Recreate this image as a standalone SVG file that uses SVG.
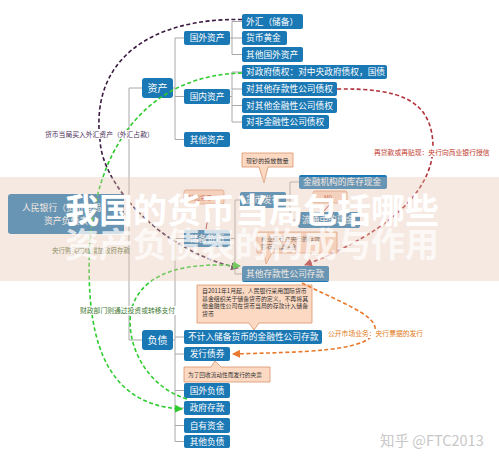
<svg xmlns="http://www.w3.org/2000/svg" width="499" height="459" viewBox="0 0 499 459">
<defs>
<style>
.b{fill:#1a78b4}
.t{fill:#fff;font-family:"Noto Sans CJK SC","Noto Sans",sans-serif;font-size:8.7px}
.m{text-anchor:middle}
.n{fill:#fcd9c2;stroke:#d9926a;stroke-width:0.8}
.nt{fill:#333;font-family:"Noto Sans CJK SC",sans-serif;font-size:5.9px}
.g{fill:none;stroke:#a8a8a8;stroke-width:1}
.d{fill:none;stroke-width:1.6;stroke-dasharray:4 2.5}
.l{font-family:"Noto Sans CJK SC",sans-serif;font-size:6.8px}
.bg{fill:#fff}
.tt{fill:#fff;font-family:"Noto Sans CJK SC",sans-serif;font-size:34px;font-weight:bold}
</style>
<marker id="ap" markerWidth="8" markerHeight="8" refX="7" refY="4" orient="auto" markerUnits="userSpaceOnUse"><path d="M0,0 L8,4 L0,8 z" fill="#3a1a40"/></marker>
<marker id="ag" markerWidth="8" markerHeight="8" refX="7" refY="4" orient="auto" markerUnits="userSpaceOnUse"><path d="M0,0 L8,4 L0,8 z" fill="#2ecc2e"/></marker>
<marker id="ar" markerWidth="8" markerHeight="8" refX="7" refY="4" orient="auto" markerUnits="userSpaceOnUse"><path d="M0,0 L8,4 L0,8 z" fill="#b0303a"/></marker>
<marker id="ao" markerWidth="8" markerHeight="8" refX="7" refY="4" orient="auto" markerUnits="userSpaceOnUse"><path d="M0,0 L8,4 L0,8 z" fill="#e8782a"/></marker>
</defs>
<rect width="499" height="459" fill="#fff"/>

<g id="connectors">
<path class="g" d="M124,214 H129 M129,88 V340 M129,88 H142 M129,340 H142
M173,88 H175 M175,38 V139.5 M175,38 H184 M175,96.5 H184 M175,139.5 H184
M230,38 H232 M232,21.5 V54.5 M232,21.5 H242 M232,38 H242 M232,54.5 H242
M230,96.5 H232 M232,72 V122 M232,72 H242 M232,89 H242 M232,105.5 H242 M232,122 H242
M173,340 H175 M175,238.5 V441.5 M175,238.5 H184 M175,337 H184 M175,354 H184 M175,390.5 H184 M175,408 H184 M175,425.5 H184 M175,441.5 H184
M230,238.5 H235 M235,200 V274 M235,200 H240 M235,274 H242
M286,200 H290 M290,182 V220 M290,182 H299 M290,220 H298"/>
</g>

<g id="root"><rect class="b" x="8" y="194" width="116" height="40" rx="3"/><text class="t m" x="66" y="211" style="font-size:8.8px">人民银行（货币当局）</text><text class="t m" x="66" y="224" style="font-size:8.8px">资产负债表</text></g>
<g id="zichan"><rect class="b" x="142" y="78" width="31" height="20" rx="3"/><text class="t m" x="157.5" y="92" style="font-size:10px">资产</text></g>
<g id="fuzhai"><rect class="b" x="142" y="330" width="31" height="20" rx="3"/><text class="t m" x="157.5" y="344" style="font-size:10px">负债</text></g>

<g id="guowai"><rect class="b" x="184" y="31" width="46" height="14" rx="2"/><text class="t m" x="207" y="41">国外资产</text></g>
<g id="guonei"><rect class="b" x="184" y="89" width="46" height="15" rx="2"/><text class="t m" x="207" y="99.5">国内资产</text></g>
<g id="qitazichan"><rect class="b" x="184" y="132" width="46" height="15" rx="2"/><text class="t m" x="207" y="142.5">其他资产</text></g>

<g id="waihui"><rect class="b" x="242" y="14" width="61" height="15" rx="2"/><text class="t" x="246" y="24.5">外汇（储备）</text></g>
<g id="huangjin"><rect class="b" x="242" y="31" width="45" height="14" rx="2"/><text class="t" x="246" y="41">货币黄金</text></g>
<g id="qitaguowai"><rect class="b" x="242" y="47" width="61" height="15" rx="2"/><text class="t" x="246" y="57.5">其他国外资产</text></g>
<g id="duizhengfu"><rect class="b" x="242" y="65" width="145" height="14" rx="2"/><text class="t" x="246" y="75">对政府债权：对中央政府债权，国债</text></g>
<g id="duicunkuan"><rect class="b" x="242" y="82" width="95" height="14" rx="2"/><text class="t" x="246" y="92">对其他存款性公司债权</text></g>
<g id="duijinrong"><rect class="b" x="242" y="98" width="95" height="15" rx="2"/><text class="t" x="246" y="108.5">对其他金融性公司债权</text></g>
<g id="duifeijinrong"><rect class="b" x="242" y="115" width="87" height="14" rx="2"/><text class="t" x="246" y="125">对非金融性公司债权</text></g>

<g id="chubei"><rect class="b" x="184" y="230" width="46" height="17" rx="2"/><text class="t m" x="207" y="241.5">储备货币</text></g>
<g id="huobifaxing"><rect class="b" x="240" y="192" width="46" height="16" rx="2"/><text class="t m" x="263" y="203">货币发行</text></g>
<g id="kucun"><rect class="b" x="299" y="175" width="88" height="14" rx="2"/><text class="t" x="303" y="185">金融机构的库存现金</text></g>
<g id="liutong"><rect class="b" x="298" y="212" width="62" height="16" rx="2"/><text class="t" x="302" y="223">流通中的现金</text></g>
<g id="qitacunkuan"><rect class="b" x="242" y="266" width="87" height="16" rx="2"/><text class="t" x="246" y="277">其他存款性公司存款</text></g>
<g id="bujiru"><rect class="b" x="184" y="330" width="138" height="14" rx="2"/><text class="t" x="188" y="340">不计入储备货币的金融性公司存款</text></g>
<g id="faxing"><rect class="b" x="184" y="347" width="46" height="14" rx="2"/><text class="t m" x="207" y="357">发行债券</text></g>
<g id="guowaifuzhai"><rect class="b" x="184" y="383" width="46" height="15" rx="2"/><text class="t m" x="207" y="393.5">国外负债</text></g>
<g id="zhengfucunkuan"><rect class="b" x="184" y="401" width="46" height="14" rx="2"/><text class="t m" x="207" y="411">政府存款</text></g>
<g id="ziyou"><rect class="b" x="184" y="418" width="46" height="15" rx="2"/><text class="t m" x="207" y="428.5">自有资金</text></g>
<g id="qitafuzhai"><rect class="b" x="184" y="435" width="46" height="13" rx="2"/><text class="t m" x="207" y="444.5">其他负债</text></g>

<g id="note-xianchao"><path class="n" d="M242,153 H293 V167 H268 L264,183 L259,167 H242 Z"/><text class="nt" x="246" y="162.5" style="font-size:6.1px">现钞的投放数量</text></g>
<g id="note-jichu"><rect class="n" x="184" y="190" width="40" height="14" rx="2"/><text class="nt" x="188" y="199.5" style="fill:#c0392b">基础货币</text><path d="M210,205 L206,229" stroke="#b0303a" stroke-width="1" fill="none"/></g>
<g id="note-m0"><rect class="n" x="313" y="191" width="34" height="12" rx="2"/><text class="nt" x="324" y="199.5" style="fill:#c0392b">M0</text><path d="M331,203 L323,212" stroke="#b0303a" stroke-width="1" fill="none"/></g>
<g id="note-zhunbei"><path class="n" d="M257,232 H337 V253 H272 L266,264 L264,253 H257 Z"/><text class="nt" x="261" y="241">商业银行在央行的存款</text><text class="nt" x="261" y="249">即存款准备金</text></g>
<g id="note-2011"><path class="n" d="M197,285 H312 V323 H259 L254,330 L249,323 H197 Z"/>
<text class="nt" x="202" y="293">自2011年1月起，人民银行采用国际货币</text>
<text class="nt" x="202" y="300.7">基金组织关于储备货币的定义，不再将其</text>
<text class="nt" x="202" y="308.4">他金融性公司在货币当局的存款计入储备</text>
<text class="nt" x="202" y="316.1">货币</text></g>
<g id="note-yangpiao"><path class="n" d="M184,367 H211 L215,361 L221,367 H270 V382 H184 Z"/><text class="nt" x="188" y="377" style="font-size:5.7px">为了回收流动性而发行的央票</text></g>

<g id="flows">
<path class="d" stroke="#3a1a40" d="M242,19.5 C150,18 90,60 100,140 C102,185 160,250 238,268" marker-end="url(#ap)"/>
<path class="d" stroke="#2ecc2e" d="M242,73 C160,75 100,130 90,240 C85,330 100,405 182,409" marker-end="url(#ag)"/>
<path class="d" stroke="#2ecc2e" d="M187,399 C140,385 120,330 135,300 C150,270 190,262 240,266" marker-end="url(#ag)"/>
<path class="d" stroke="#b0303a" d="M337,89 C400,88 432,100 433,146 C433,200 370,240 305,265" marker-end="url(#ar)"/>
<path class="d" stroke="#e8782a" d="M302,283 C335,300 378,315 375,330 C372,352 300,352 233,354" marker-end="url(#ao)"/>
<rect class="bg" x="44" y="130" width="110" height="9"/>
<text class="l" x="45" y="136.5" fill="#4a2a55">货币当局买入外汇资产（外汇占款）</text>
<rect class="bg" x="372" y="148" width="118" height="9"/>
<text class="l" x="374" y="154.5" fill="#c0392b">再贷款或再贴现：央行向商业银行授信</text>
<rect class="bg" x="326" y="329" width="98" height="9"/>
<text class="l" x="328" y="335.5" fill="#e07b20">公开市场业务：央行票据的发行</text>
<rect class="bg" x="78" y="306" width="98" height="9"/>
<text class="l" x="80" y="312.5" fill="#3c7a30">财政部门则通过投资或转移支付</text>
<text class="l" x="52" y="252.5" fill="#556b2f" style="font-size:6.5px">央行购买国债增加政府存款</text>
</g>

<rect x="0" y="177" width="499" height="104" fill="#e8c4b4" opacity="0.38"/>
<text class="tt" x="65" y="223">我国的货币当局包括哪些</text>
<text class="tt" x="65" y="257" opacity="0.72">资产负债表的构成与作用</text>

<text x="380" y="446" fill="#c8c8c8" style="font-family:'Noto Sans CJK SC',sans-serif;font-size:14.5px">知乎 @FTC2013</text>
</svg>
